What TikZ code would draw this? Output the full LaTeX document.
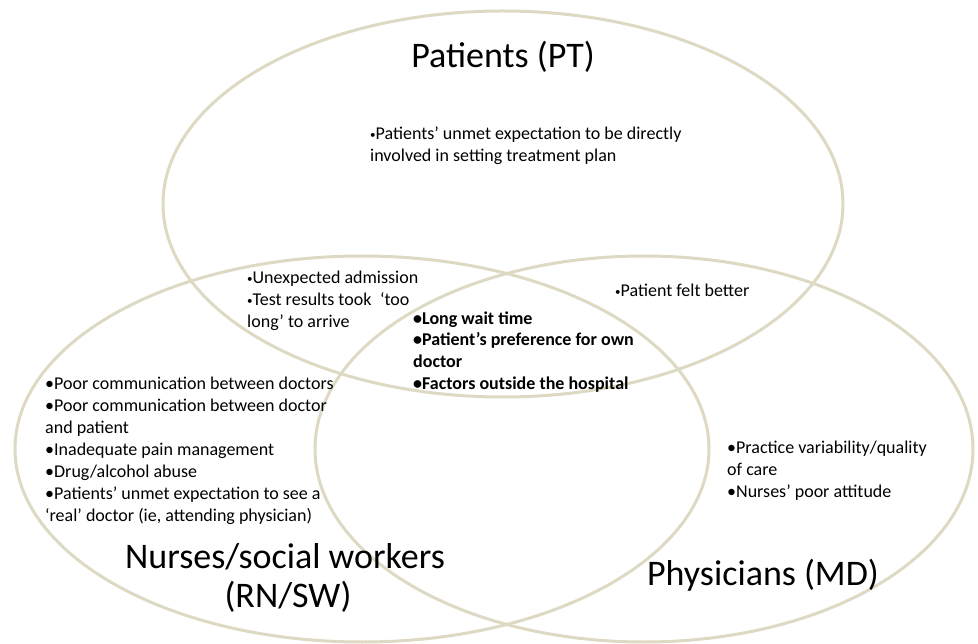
\documentclass[tikz,border=0pt]{standalone}
\usepackage{fontspec}
\setmainfont{Carlito}
\definecolor{venncol}{HTML}{DDD9C3}
\newcommand{\smbul}{\raisebox{1.6pt}{\fontsize{11}{11}\selectfont•}}
\newcommand{\bgbul}{•}
\tikzset{
  venn/.style={draw=venncol, line width=3pt},
  item/.style={anchor=base west, align=left, inner sep=0pt, font=\fontsize{18}{22}\selectfont},
  boldlist/.style={item, font=\fontsize{18}{22}\selectfont\bfseries},
  title/.style={anchor=base, inner sep=0pt, font=\fontsize{36}{40}\selectfont}
}
\begin{document}
\begin{tikzpicture}[x=1pt,y=-1pt]
\useasboundingbox (0,0) rectangle (978,644);
% ellipses
\draw[venn] (503,204) ellipse [x radius=340pt, y radius=193pt];
\draw[venn] (362,449) ellipse [x radius=347pt, y radius=193pt];
\draw[venn] (644,449) ellipse [x radius=329pt, y radius=193pt];
% titles
\node[title] (pt) at (503,68) {Patients (PT)};
\node[title] (rn1) at (285,568) {Nurses/social workers};
\node[title] (rn2) at (288,607) {(RN/SW)};
\node[title] (md) at (763,585) {Physicians (MD)};
% texts (anchor = baseline of the last line)
\node[item] (ptonly) at (370,162) {\smbul Patients’ unmet expectation to be directly\\involved in setting treatment plan};
\node[item] (ptrn) at (247,328) {\smbul Unexpected admission\\\smbul Test results took\hspace{0.25em} ‘too\\long’ to arrive};
\node[item] (ptmd) at (615,297) {\smbul Patient felt better};
\node[boldlist] (all) at (413,390) {\bgbul Long wait time\\\bgbul Patient’s preference for own\\doctor\\\bgbul Factors outside the hospital};
\node[item] (rnonly) at (45,521) {\bgbul Poor communication between doctors\\\bgbul Poor communication between doctor\\and patient\\\bgbul Inadequate pain management\\\bgbul Drug/alcohol abuse\\\bgbul Patients’ unmet expectation to see a\\‘real’ doctor (ie, attending physician)};
\node[item] (mdonly) at (727,497) {\bgbul Practice variability/quality\\of care\\\bgbul Nurses’ poor attitude};
\end{tikzpicture}
\end{document}
